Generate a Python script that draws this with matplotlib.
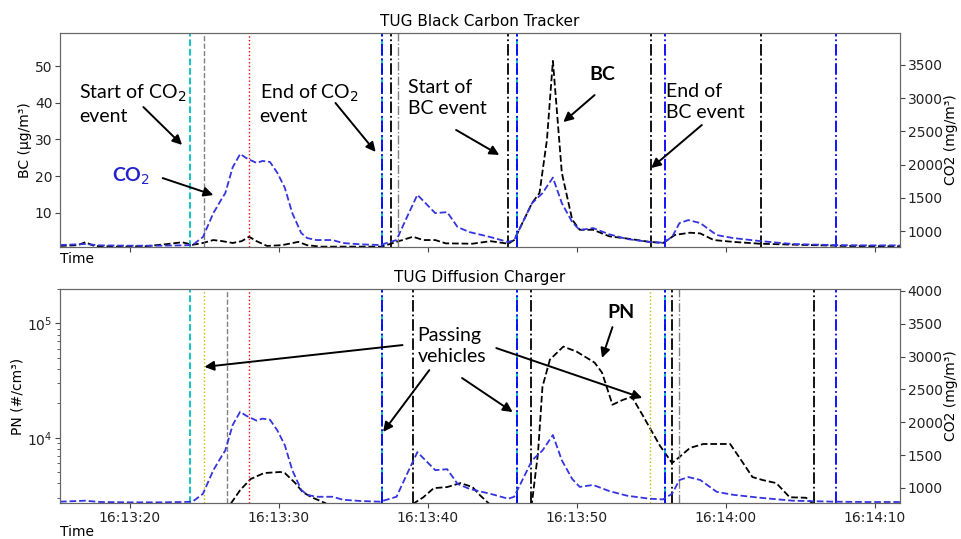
import numpy as np
import matplotlib
matplotlib.use('Agg')
import matplotlib.pyplot as plt
import matplotlib.dates as mdates
import pandas as pd

plt.rcParams['font.family'] = ['DejaVu Sans']
plt.rcParams['axes.edgecolor'] = '#666666'
plt.rcParams['xtick.color'] = '#444444'
plt.rcParams['ytick.color'] = '#444444'
plt.rcParams['xtick.labelcolor'] = '#222222'
plt.rcParams['ytick.labelcolor'] = '#222222'

# seconds after 16:13:00
t_co2 = [15.3, 17.0, 18.0, 20.0, 22.0, 23.5, 24.2, 24.9, 25.6, 26.2, 26.4, 26.9, 27.4, 27.8,
         28.5, 28.9, 29.4, 29.9, 30.4, 30.9, 31.5, 31.9, 32.5, 33.6, 34.3, 35.5, 36.8, 37.9,
         38.6, 39.3, 40.5, 41.3, 42.0, 42.8, 44.2, 45.4, 45.8, 47.0, 47.7, 48.4, 49.0, 49.7,
         50.2, 51.1, 52.2, 53.4, 54.9, 55.8, 56.4, 56.9, 57.5, 58.3, 59.4, 60.5, 62.3, 64.5,
         67.2, 69.5, 71.7]
co2 = [790, 805, 785, 780, 780, 785, 790, 910, 1270, 1500, 1570, 1960, 2160, 2100,
       2025, 2055, 2040, 1875, 1650, 1270, 970, 895, 865, 865, 820, 800, 790, 865,
       1210, 1545, 1270, 1285, 1060, 985, 910, 835, 865, 1420, 1570, 1805, 1420, 1135,
       1015, 1045, 950, 880, 835, 825, 910, 1120, 1165, 1120, 940, 895, 850, 805,
       790, 785, 785]

t_bc = [15.3, 16.5, 17.0, 17.6, 19.0, 21.0, 22.5, 23.5, 24.2, 24.9, 25.6, 26.2, 26.9, 27.5,
        28.0, 28.5, 29.2, 30.2, 31.3, 31.9, 32.8, 35.0, 36.9, 37.9, 39.0, 39.7, 40.5, 41.2,
        43.0, 44.2, 45.4, 45.8, 47.0, 47.5, 48.0, 48.4, 49.0, 49.7, 50.2, 51.1, 52.2, 53.4,
        54.9, 55.8, 56.6, 57.6, 58.3, 59.2, 60.5, 62.3, 65.0, 68.0, 71.7]
bc = [1.0, 1.2, 2.0, 1.0, 0.8, 0.9, 1.5, 2.0, 1.3, 1.8, 2.6, 2.3, 1.8, 2.3,
      3.5, 2.3, 1.0, 1.2, 2.1, 1.2, 0.8, 0.8, 0.8, 2.1, 3.5, 2.6, 2.6, 1.7,
      1.6, 2.3, 1.6, 2.6, 12.7, 15.4, 29.9, 51.4, 20.9, 8.1, 5.4, 5.4, 3.6, 3.0,
      2.1, 1.8, 4.0, 4.6, 4.4, 2.6, 2.1, 1.6, 1.3, 1.0, 0.9]

t_pn = [15.3, 20.0, 26.5, 26.8, 27.4, 28.1, 29.0, 30.1, 30.4, 31.1, 31.6, 32.2, 33.1, 34.0,
        38.5, 39.1, 39.7, 40.4, 41.3, 42.2, 43.0, 43.5, 44.2, 45.0, 46.5, 47.0, 47.4, 47.7,
        48.2, 49.1, 50.0, 51.2, 51.7, 52.4, 53.1, 53.7, 54.4, 55.6, 56.4, 56.9, 57.6, 58.5,
        60.3, 60.9, 61.8, 62.5, 63.4, 64.3, 65.4, 65.8, 66.5, 71.7]
pn = [2000, 2000, 2000, 2700, 3500, 4370, 4930, 5040, 4930, 4030, 3360, 3030, 2700, 2300,
      2300, 2700, 3030, 3640, 3720, 4030, 3720, 3160, 2600, 2300, 2300, 2750, 7380, 28000,
      48300, 62800, 56700, 45500, 37200, 19500, 21500, 22900, 16000, 8500, 6040, 6810, 8170, 8850,
      8850, 6810, 4550, 4280, 4030, 3030, 3000, 2700, 2300, 2300]

# event markers (seconds after 16:13:00)
top_lines = [(24.0, 'c', '--'), (25.0, 'gray', '--'), (28.0, 'red', ':'),
             (36.9, 'c', '--'), (36.9, 'blue', '-.'), (37.5, 'black', '-.'), (38.0, 'gray', '-.'),
             (45.4, 'black', '-.'), (46.0, 'c', '--'), (46.0, 'blue', '-.'),
             (55.0, 'black', '-.'), (55.9, 'blue', '-.'),
             (62.4, 'black', '-.'), (67.4, 'blue', '-.')]
bottom_lines = [(24.0, 'c', '--'), (25.0, 'y', ':'), (26.5, 'gray', '--'), (28.0, 'red', ':'),
                (36.9, 'c', '--'), (36.9, 'blue', '-.'), (39.0, 'black', '-.'),
                (46.0, 'c', '--'), (46.0, 'blue', '-.'), (46.9, 'black', '-.'),
                (54.9, 'y', ':'), (55.9, 'c', '--'), (55.9, 'blue', '-.'), (56.4, 'black', '-.'),
                (56.9, 'gray', '-.'), (65.9, 'black', '-.'), (67.4, 'blue', '-.')]

t0 = mdates.date2num(pd.Timestamp('2022-01-01 16:13:00'))


def tn(sec):
    return t0 + np.asarray(sec, dtype=float) / 86400.0


xlim = (tn(15.3), tn(71.7))

fig = plt.figure(figsize=(9.61, 5.39), dpi=100)
ax1 = fig.add_axes([0.0624, 0.5417, 0.874, 0.3971])
ax2 = fig.add_axes([0.0624, 0.0668, 0.874, 0.3970])
ax1r = ax1.twinx()
ax2r = ax2.twinx()

# top: black carbon
ax1.plot(tn(t_bc), bc, '--', color='black', lw=1.3)
ax1r.plot(tn(t_co2), co2, '--', color='#3434e0', lw=1.3)
for x, c, ls in top_lines:
    lw = 1.0 if ls == ':' or c == 'gray' else 1.3
    ax1.axvline(tn(x), color=c, ls=ls, lw=lw)
ax1.set_ylim(0.7, 59)
ax1.set_yticks([10, 20, 30, 40, 50])
ax1r.set_ylim(760, 3980)
ax1.set_ylabel('BC (µg/m³)', fontsize=10, labelpad=2)
ax1r.set_ylabel('CO2 (mg/m³)', fontsize=10, labelpad=1)
ax1.set_title('TUG Black Carbon Tracker', fontsize=11, pad=5)

# bottom: diffusion charger
ax2.plot(tn(t_pn), pn, '--', color='black', lw=1.3)
ax2.set_yscale('log')
ax2r.plot(tn(t_co2), co2, '--', color='#3434e0', lw=1.3)
for x, c, ls in bottom_lines:
    lw = 1.0 if ls == ':' or c == 'gray' else 1.3
    ax2.axvline(tn(x), color=c, ls=ls, lw=lw)
ax2.set_ylim(2700, 2.0e5)
ax2r.set_ylim(770, 4030)
ax2.set_ylabel('PN (#/cm³)', fontsize=10, labelpad=2)
ax2r.set_ylabel('CO2 (mg/m³)', fontsize=10, labelpad=1)
ax2.set_title('TUG Diffusion Charger', fontsize=11, pad=5)

for ax in (ax1, ax2):
    ax.set_xlim(*xlim)
    ax.xaxis.set_major_locator(mdates.SecondLocator(bysecond=range(0, 60, 10)))
    ax.xaxis.set_major_formatter(mdates.DateFormatter('%H:%M:%S'))
    ax.set_xlabel('Time', fontsize=10, loc='left', labelpad=0)
for ax in (ax1, ax2, ax1r, ax2r):
    ax.tick_params(labelsize=10, pad=2)
ax1.tick_params(axis='x', labelbottom=False)

# annotations
afont = ['Lato', 'DejaVu Sans']
arrow = dict(arrowstyle='-|>', color='black', lw=1.4, mutation_scale=14, shrinkA=0, shrinkB=0)
ax_tr = ('data', 'axes fraction')


def note(ax, text, x, y, ha='left', **kw):
    ax.annotate(text, xy=(tn(x), y), xycoords=ax_tr, ha=ha, va='center',
                fontsize=14, family=afont, linespacing=1.25, **kw)


def arr(ax, x0, y0, x1, y1):
    ax.annotate('', xy=(tn(x1), y1), xytext=(tn(x0), y0), xycoords=ax_tr,
                textcoords=ax_tr, arrowprops=arrow)


note(ax1r, 'Start of CO$_2$\nevent', 16.6, 0.668)
arr(ax1r, 20.9, 0.654, 23.5, 0.477)
note(ax1r, 'End of CO$_2$\nevent', 28.7, 0.668)
arr(ax1r, 33.8, 0.673, 36.5, 0.444)
note(ax1r, 'Start of\nBC event', 38.7, 0.696)
arr(ax1r, 41.9, 0.547, 44.8, 0.43)
note(ax1r, 'BC', 51.7, 0.804, ha='center', weight='bold')
arr(ax1r, 51.2, 0.71, 49.1, 0.584)
note(ax1r, 'End of\nBC event', 56.0, 0.678)
arr(ax1r, 58.4, 0.57, 55.0, 0.369)
note(ax1r, 'CO$_2$', 20.1, 0.332, ha='center', weight='bold', color='#2222cc')
arr(ax1r, 22.2, 0.322, 25.6, 0.243)

note(ax2r, 'Passing\nvehicles', 39.3, 0.734)
arr(ax2r, 38.3, 0.738, 25.0, 0.636)
arr(ax2r, 40.1, 0.621, 37.0, 0.332)
arr(ax2r, 42.3, 0.584, 45.7, 0.425)
arr(ax2r, 44.6, 0.724, 54.4, 0.491)
note(ax2r, 'PN', 53.0, 0.888, ha='center', weight='bold')
arr(ax2r, 52.4, 0.822, 51.7, 0.678)

fig.savefig('out.png', dpi=100)
